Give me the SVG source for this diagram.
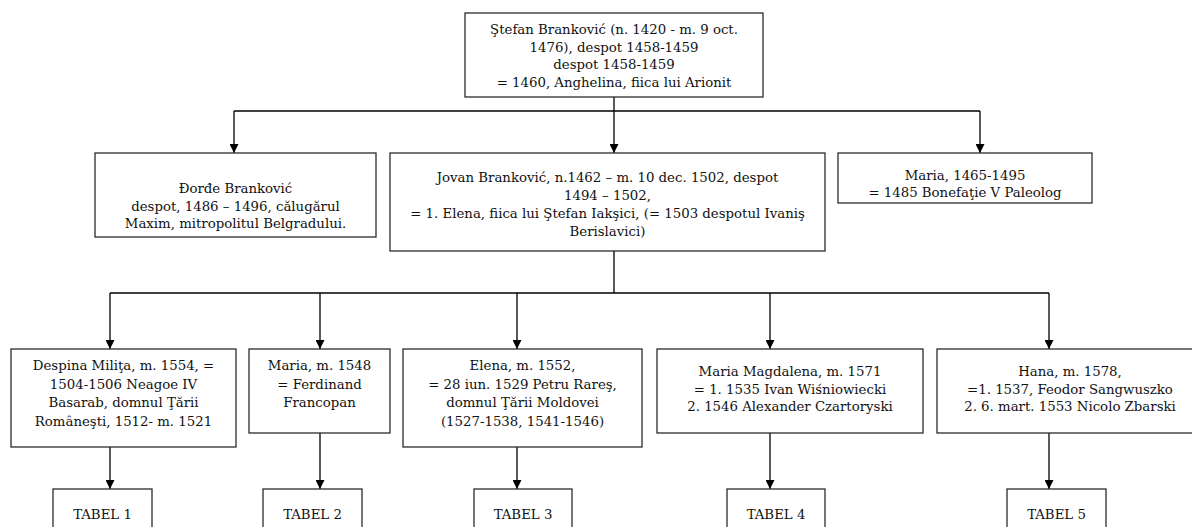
<svg xmlns="http://www.w3.org/2000/svg" width="1192" height="527" viewBox="0 0 1192 527">
<style>
.box{fill:#fff;stroke:#2b2b2b;stroke-width:1.3}
.t{font-family:"DejaVu Serif","Liberation Serif",serif;font-size:13.3px;fill:#111;text-anchor:middle}
.c{fill:none;stroke:#000;stroke-width:1.3}
</style>
<defs>
<marker id="ah" markerUnits="userSpaceOnUse" markerWidth="10" markerHeight="9" refX="9" refY="4.5" orient="auto">
<path d="M0,0 L9,4.5 L0,9 z" fill="#000"/>
</marker>
</defs>
<rect width="1192" height="527" fill="#fff"/>
<g id="connectors">
<path class="c" d="M234,111 H980"/>
<path class="c" d="M614,97 V153" marker-end="url(#ah)"/>
<path class="c" d="M234,111 V153" marker-end="url(#ah)"/>
<path class="c" d="M980,111 V153" marker-end="url(#ah)"/>
<path class="c" d="M614,251 V293"/>
<path class="c" d="M110,293 H1049"/>
<path class="c" d="M110,293 V349" marker-end="url(#ah)"/>
<path class="c" d="M320,293 V349" marker-end="url(#ah)"/>
<path class="c" d="M517,293 V349" marker-end="url(#ah)"/>
<path class="c" d="M770,293 V349" marker-end="url(#ah)"/>
<path class="c" d="M1049,293 V349" marker-end="url(#ah)"/>
<path class="c" d="M110,447 V489" marker-end="url(#ah)"/>
<path class="c" d="M320,433 V489" marker-end="url(#ah)"/>
<path class="c" d="M517,447 V489" marker-end="url(#ah)"/>
<path class="c" d="M770,433 V489" marker-end="url(#ah)"/>
<path class="c" d="M1049,433 V489" marker-end="url(#ah)"/>
</g>
<g id="stefan">
<rect class="box" x="465" y="13" width="298" height="84"/>
<text class="t" x="614" y="34">Ştefan Branković (n. 1420 - m. 9 oct.</text>
<text class="t" x="614" y="51.5">1476), despot 1458-1459</text>
<text class="t" x="614" y="69">despot 1458-1459</text>
<text class="t" x="614" y="86.5">= 1460, Anghelina, fiica lui Arionit</text>
</g>
<g id="djordje">
<rect class="box" x="95" y="153" width="281" height="84"/>
<text class="t" x="235.5" y="193">Đorđe Branković</text>
<text class="t" x="235.5" y="210.5">despot, 1486 – 1496, călugărul</text>
<text class="t" x="235.5" y="228">Maxim, mitropolitul Belgradului.</text>
</g>
<g id="jovan">
<rect class="box" x="390" y="153" width="435" height="98"/>
<text class="t" x="607.5" y="181.5">Jovan Branković, n.1462 – m. 10 dec. 1502, despot</text>
<text class="t" x="607.5" y="199.5">1494 – 1502,</text>
<text class="t" x="607.5" y="217.5">= 1. Elena, fiica lui Ştefan Iakşici, (= 1503 despotul Ivaniş</text>
<text class="t" x="607.5" y="235.5">Berislavici)</text>
</g>
<g id="maria1">
<rect class="box" x="838" y="153" width="254" height="50"/>
<text class="t" x="965" y="180">Maria, 1465-1495</text>
<text class="t" x="965" y="196.5">= 1485 Bonefaţie V Paleolog</text>
</g>
<g id="despina">
<rect class="box" x="11" y="349" width="225" height="98"/>
<text class="t" x="123.5" y="370">Despina Miliţa, m. 1554, =</text>
<text class="t" x="123.5" y="388.5">1504-1506 Neagoe IV</text>
<text class="t" x="123.5" y="407">Basarab, domnul Ţării</text>
<text class="t" x="123.5" y="425.5">Româneşti, 1512- m. 1521</text>
</g>
<g id="maria2">
<rect class="box" x="249" y="349" width="141" height="84"/>
<text class="t" x="319.5" y="370">Maria, m. 1548</text>
<text class="t" x="319.5" y="388.5">= Ferdinand</text>
<text class="t" x="319.5" y="407">Francopan</text>
</g>
<g id="elena">
<rect class="box" x="403" y="349" width="239" height="98"/>
<text class="t" x="522.5" y="370">Elena, m. 1552,</text>
<text class="t" x="522.5" y="388.5">= 28 iun. 1529 Petru Rareş,</text>
<text class="t" x="522.5" y="407">domnul Ţării Moldovei</text>
<text class="t" x="522.5" y="425.5">(1527-1538, 1541-1546)</text>
</g>
<g id="mariamagdalena">
<rect class="box" x="657" y="349" width="266" height="84"/>
<text class="t" x="790" y="376">Maria Magdalena, m. 1571</text>
<text class="t" x="790" y="393.5">= 1. 1535 Ivan Wiśniowiecki</text>
<text class="t" x="790" y="411">2. 1546 Alexander Czartoryski</text>
</g>
<g id="hana">
<rect class="box" x="937" y="349" width="268" height="84"/>
<text class="t" x="1070" y="376">Hana, m. 1578,</text>
<text class="t" x="1070" y="393.5">=1. 1537, Feodor Sangwuszko</text>
<text class="t" x="1070" y="411">2. 6. mart. 1553 Nicolo Zbarski</text>
</g>
<g id="tabel1">
<rect class="box" x="53" y="489" width="99" height="50"/>
<text class="t" x="102.5" y="519">TABEL 1</text>
</g>
<g id="tabel2">
<rect class="box" x="263" y="489" width="99" height="50"/>
<text class="t" x="312.5" y="519">TABEL 2</text>
</g>
<g id="tabel3">
<rect class="box" x="474" y="489" width="98" height="50"/>
<text class="t" x="523" y="519">TABEL 3</text>
</g>
<g id="tabel4">
<rect class="box" x="727" y="489" width="98" height="50"/>
<text class="t" x="776" y="519">TABEL 4</text>
</g>
<g id="tabel5">
<rect class="box" x="1007" y="489" width="99" height="50"/>
<text class="t" x="1056.5" y="519">TABEL 5</text>
</g>
</svg>
